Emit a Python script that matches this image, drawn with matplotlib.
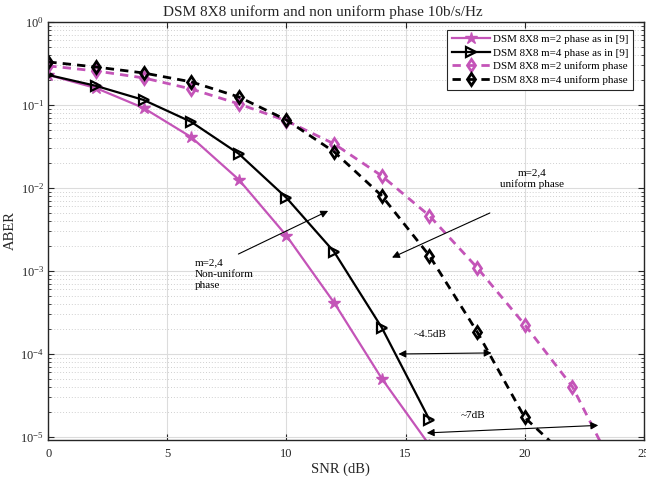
import numpy as np
import matplotlib.pyplot as plt
from matplotlib.ticker import LogLocator, NullFormatter

plt.rcParams['font.family'] = ['Liberation Serif', 'DejaVu Serif']
plt.rcParams['mathtext.fontset'] = 'stix'

# ABER curves
snr_phase9 = [0, 2, 4, 6, 8, 10, 12, 14, 16]
m2_phase9 = [0.23, 0.16, 0.092, 0.041, 0.0126, 0.00266, 4.15e-4, 5.06e-5, 8.0e-6]
m4_phase9 = [0.23, 0.17, 0.115, 0.0626, 0.0258, 0.0076, 0.0017, 2.08e-4, 1.62e-5]

snr_m2_uni = [0, 2, 4, 6, 8, 10, 12, 14, 16, 18, 20, 22, 24]
m2_uniform = [0.296, 0.257, 0.212, 0.156, 0.103, 0.0644, 0.034, 0.014,
              0.00463, 0.0011, 2.26e-4, 4.05e-5, 3.0e-6]
snr_m4_uni = [0, 2, 4, 6, 8, 10, 12, 14, 16, 18, 20, 22]
m4_uniform = [0.33, 0.287, 0.243, 0.19, 0.125, 0.066, 0.0273, 0.00806,
              0.00153, 1.86e-4, 1.72e-5, 5.0e-6]

labels = ["DSM 8X8 m=2 phase as in [9]",
          "DSM 8X8 m=4 phase as in [9]",
          "DSM 8X8 m=2 uniform phase",
          "DSM 8X8 m=4 uniform phase"]

# annotation anchors (data coords)
nonuni_arrow = [(7.98, 1.6e-3), (11.75, 5.3e-3)]
uni_arrow = [(18.54, 5.0e-3), (14.43, 1.45e-3)]
gap45_arrow = [(14.70, 1.0e-4), (18.61, 1.03e-4)]
gap7_arrow = [(15.89, 1.12e-5), (23.09, 1.38e-5)]

PINK = '#C454B8'

fig = plt.figure(figsize=(6.46, 4.78), dpi=100)
ax = fig.add_axes([0.0748, 0.0795, 0.9217, 0.8745])

ax.semilogy(snr_phase9, m2_phase9, '-', color=PINK, lw=1.6, marker='*',
            ms=9, mfc=PINK, mec=PINK, label=labels[0])
ax.semilogy(snr_phase9, m4_phase9, '-', color='k', lw=1.6, marker='>',
            ms=7, mfc='none', mec='k', mew=1.6, label=labels[1])
ax.semilogy(snr_m2_uni, m2_uniform, '--', color=PINK, lw=2, marker='d',
            ms=6.5, mfc='none', mec=PINK, mew=2, dashes=(3, 2.2), label=labels[2])
ax.semilogy(snr_m4_uni, m4_uniform, '--', color='k', lw=2, marker='d',
            ms=6.5, mfc='none', mec='k', mew=2, dashes=(3, 2.2), label=labels[3])

ax.set_xlim(0, 25)
ax.set_ylim(9.2e-6, 1)
ax.set_xticks([0, 5, 10, 15, 20, 25])
ax.yaxis.set_major_locator(LogLocator(base=10, numticks=10))
ax.yaxis.set_minor_locator(LogLocator(base=10, subs=np.arange(2, 10), numticks=20))
ax.yaxis.set_minor_formatter(NullFormatter())

ax.grid(True, which='major', color='#DCDCDC', lw=0.8, ls='-')
ax.grid(True, which='minor', axis='y', color='#D0D0D0', lw=0.7, ls=(0, (1, 2)))
ax.set_axisbelow(True)

ax.tick_params(which='both', direction='in', top=True, right=True,
               colors='#262626', labelcolor='#262626')
ax.tick_params(which='major', length=4, width=0.8, labelsize=9)
ax.tick_params(which='minor', length=2.5, width=0.6)
ax.tick_params(axis='x', pad=6)
ax.tick_params(axis='y', pad=3)
for s in ax.spines.values():
    s.set_color('#262626')
    s.set_linewidth(1.0)

ax.set_xlabel('SNR (dB)', fontsize=10.5, color='#262626')
ax.set_ylabel('ABER', fontsize=10.5, color='#262626')
ax.xaxis.set_label_coords(0.49, -0.053)
ax.yaxis.set_label_coords(-0.052, 0.5)
ax.set_title('DSM 8X8 uniform and non uniform phase 10b/s/Hz', fontsize=11,
             x=0.461, pad=4, color='#262626')

leg = ax.legend(loc='upper right', bbox_to_anchor=(0.9825, 0.982),
                borderaxespad=0, fontsize=7.9, handlelength=3.4,
                handletextpad=0.3, labelspacing=0.35, borderpad=0.45,
                fancybox=False, framealpha=1, edgecolor='#262626')
leg.get_frame().set_linewidth(0.8)

arrow_kw = dict(color='k', lw=0.8, mutation_scale=11, shrinkA=0, shrinkB=0)
ax.annotate('', xy=nonuni_arrow[1], xytext=nonuni_arrow[0],
            arrowprops=dict(arrowstyle='-|>', **arrow_kw))
ax.annotate('', xy=uni_arrow[1], xytext=uni_arrow[0],
            arrowprops=dict(arrowstyle='-|>', **arrow_kw))
ax.annotate('', xy=gap45_arrow[1], xytext=gap45_arrow[0],
            arrowprops=dict(arrowstyle='<|-|>', **arrow_kw))
ax.annotate('', xy=gap7_arrow[1], xytext=gap7_arrow[0],
            arrowprops=dict(arrowstyle='<|-|>', **arrow_kw))

ax.text(6.16, 1.41e-3, 'm=2,4\nNon-uniform\nphase', fontsize=8,
        va='top', ha='left', linespacing=1.3)
ax.text(20.3, 1.29e-2, 'm=2,4\nuniform phase', fontsize=8,
        va='center', ha='center', linespacing=1.3)
ax.text(16.02, 1.71e-4, '~4.5dB', fontsize=8, va='center', ha='center')
ax.text(17.83, 1.82e-5, '~7dB', fontsize=8, va='center', ha='center')

fig.savefig('out.png', dpi=100)
